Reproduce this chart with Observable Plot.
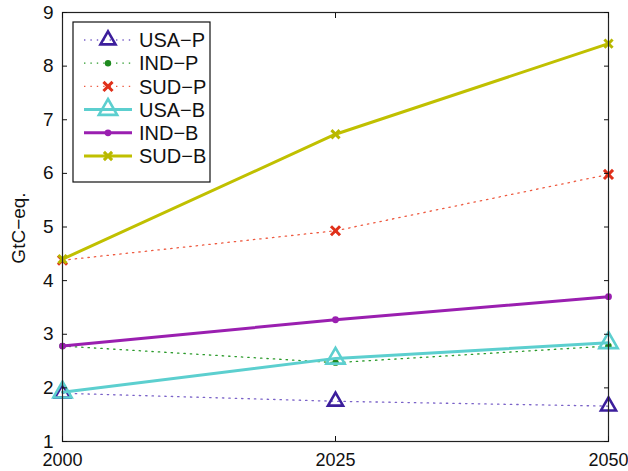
<!DOCTYPE html>
<html><head><meta charset="utf-8">
<script src="https://cdn.jsdelivr.net/npm/d3@7"></script>
<script src="https://cdn.jsdelivr.net/npm/@observablehq/plot@0.6"></script>
<style>body{margin:0;background:#fff}svg{font-family:"Liberation Sans",Arial,sans-serif}</style>
</head><body><div id="chart"></div>
<script>
const years = [2000, 2025, 2050];
const yTicks = [1, 2, 3, 4, 5, 6, 7, 8, 9];
const seriesNames = ["USA-P", "IND-P", "SUD-P", "USA-B", "IND-B", "SUD-B"];
const usaP = [1.90, 1.75, 1.66];
const indP = [2.78, 2.47, 2.78];
const sudP = [4.38, 4.93, 5.98];
const usaB = [1.92, 2.55, 2.84];
const indB = [2.78, 3.27, 3.70];
const sudB = [4.40, 6.73, 8.42];
const yLabel = "GtC\u2212eq.";

const styles = [
  {vals: usaP, line: "#7a62c8", mark: "#3c1e9c", dash: "1.4,5", w: 1.3, sym: "triangle", r: 5.6, fill: "none", sw: 2.6},
  {vals: indP, line: "#2a9a2a", mark: "#1e8a1e", dash: "1.4,5", w: 1.3, sym: "circle", r: 3.2, fill: "#1e8a1e", sw: 0},
  {vals: sudP, line: "#ee5a40", mark: "#e0301a", dash: "1.4,5", w: 1.3, sym: "times", r: 4.2, fill: "none", sw: 3},
  {vals: usaB, line: "#5ccfcf", mark: "#5ccfcf", dash: null, w: 3, sym: "triangle", r: 6.8, fill: "none", sw: 2.6},
  {vals: indB, line: "#9a1fb0", mark: "#9a1fb0", dash: null, w: 3, sym: "circle", r: 3.4, fill: "#9a1fb0", sw: 0},
  {vals: sudB, line: "#c0c000", mark: "#b8b800", dash: null, w: 3, sym: "times", r: 3.8, fill: "none", sw: 3}
];

const marks = [];
styles.forEach((s, i) => {
  const data = years.map((yr, j) => ({x: yr, y: s.vals[j]}));
  marks.push(Plot.line(data, {x: "x", y: "y", stroke: s.line, strokeWidth: s.w, strokeDasharray: s.dash || undefined}));
  marks.push(Plot.dot(data, {x: "x", y: "y", symbol: s.sym, r: s.r, stroke: s.sw ? s.mark : "none", strokeWidth: s.sw, fill: s.fill}));
});

const chart = Plot.plot({
  width: 628, height: 471,
  marginLeft: 62, marginRight: 20, marginTop: 12, marginBottom: 30,
  style: {fontSize: "19px", fontFamily: "Liberation Sans, Arial, sans-serif", color: "#111"},
  x: {domain: [2000, 2050]},
  y: {domain: [1, 9]},
  marks: [
    ...marks,
    Plot.frame({stroke: "#222", strokeWidth: 1.2}),
    Plot.axisY(yTicks, {anchor: "left", tickSize: -5, tickFormat: () => "", label: null}),
    Plot.axisY(yTicks, {anchor: "right", tickSize: -5, tickFormat: () => "", label: null}),
    Plot.axisY(yTicks, {anchor: "left", tickSize: 0, tickPadding: 9, tickFormat: d => String(d), label: null, fontSize: 19}),
    Plot.axisX(years, {anchor: "bottom", tickSize: -5, tickFormat: () => "", label: null}),
    Plot.axisX(years, {anchor: "top", tickSize: -5, tickFormat: () => "", label: null}),
    Plot.axisX(years, {anchor: "bottom", tickSize: 0, tickPadding: 12, tickFormat: d => String(d), label: null, fontSize: 18})
  ]
});
document.getElementById("chart").appendChild(chart);

const svg = d3.select(chart);
// y label
svg.append("text").attr("transform", "translate(25,228) rotate(-90)")
  .attr("text-anchor", "middle").attr("font-size", 19).attr("fill", "#111").text(yLabel);

// legend
const lg = svg.append("g").attr("text-anchor", "start");
const bx = 73, by = 22, bw = 137, bh = 160;
lg.append("rect").attr("x", bx).attr("y", by).attr("width", bw).attr("height", bh)
  .attr("fill", "#fff").attr("stroke", "#111").attr("stroke-width", 1.2);
const symMap = {triangle: d3.symbolTriangle, circle: d3.symbolCircle, times: d3.symbolTimes};
seriesNames.forEach((name, i) => {
  const s = styles[i];
  const cy = by + 18 + i * 23.2;
  lg.append("line").attr("x1", 84).attr("x2", 132).attr("y1", cy).attr("y2", cy)
    .attr("stroke", s.line).attr("stroke-width", s.w).attr("stroke-dasharray", s.dash);
  const size = Math.PI * s.r * s.r;
  lg.append("path").attr("d", d3.symbol(symMap[s.sym], size)())
    .attr("transform", `translate(108,${cy})`)
    .attr("fill", s.fill).attr("stroke", s.sw ? s.mark : "none").attr("stroke-width", s.sw);
  lg.append("text").attr("x", 139).attr("y", cy).attr("dy", "0.36em").attr("text-anchor", "start")
    .attr("font-size", 20).attr("fill", "#111").text(name.replace("-", "\u2212"));
});
</script></body></html>
